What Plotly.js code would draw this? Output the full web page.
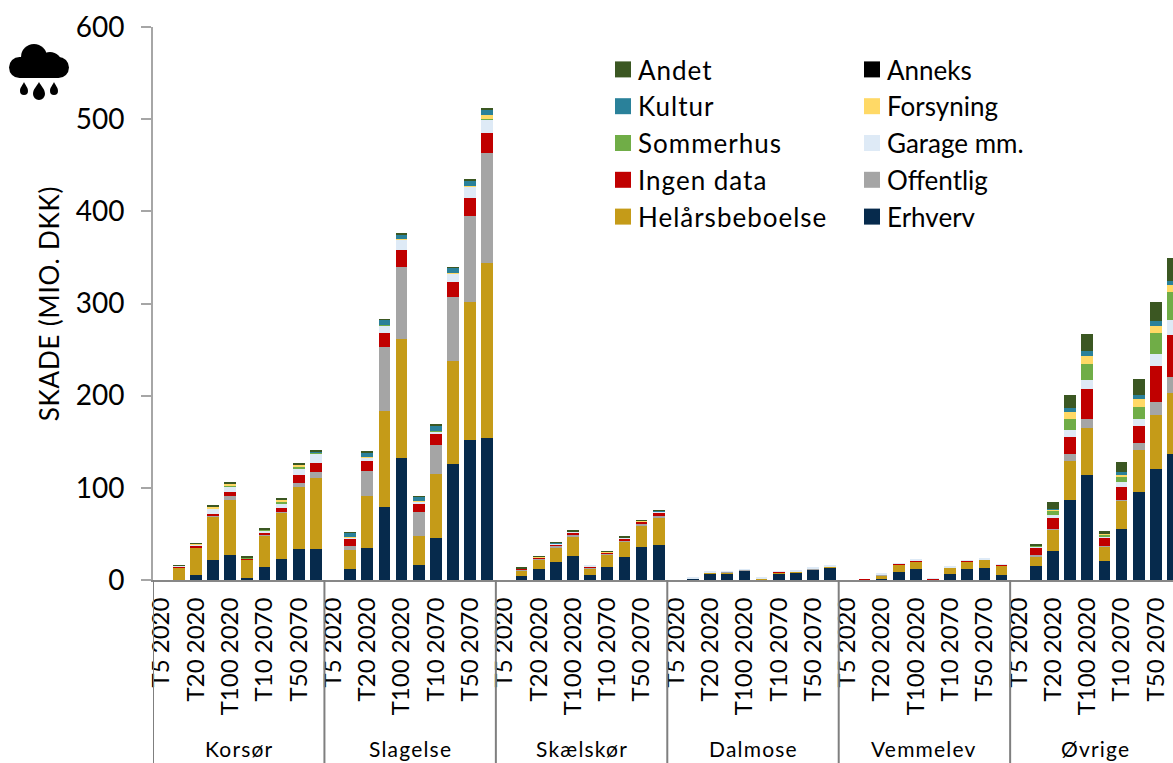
<!DOCTYPE html>
<html><head><meta charset="utf-8">
<script src="https://cdn.plot.ly/plotly-3.0.1.min.js"></script>
<style>
html,body{margin:0;padding:0;background:#fff;overflow:hidden}
#chart{width:1173px;height:763px}
.legendpoints path{d:path("M13 8H-3V-8H13Z")}
.legendtext{letter-spacing:1px}
.ytitle{letter-spacing:.8px}
.annotation-text{letter-spacing:1.2px}
</style></head><body><div id="chart"></div>
<script>
const groups = ["Korsør","Slagelse","Skælskør","Dalmose","Vemmelev","Øvrige"];
const scenarios = ["T5 2020","T10 2020","T20 2020","T50 2020","T100 2020","T5 2070","T10 2070","T20 2070","T50 2070","T100 2070"];

const erhverv = [
  0,0.5,5.5,21.3,27,2,14.5,22.4,33.6,34,
  0,11.6,35,78.8,132,16.3,45.6,125.9,151.5,154.4,
  0,4.7,12.3,19.5,26.4,5,14.5,24.6,35.4,38.3,
  0,1.1,7.2,7.2,10,0.8,7.2,8,11.2,13.4,
  0,0.1,1,8.7,12.3,0,6.9,12.3,13.4,5.8,
  0,14.8,31.5,86.4,114,20.6,55.3,95,120,137];
const helaars = [
  0,13,29.7,47.8,59.7,19.7,34,50.6,67.7,76.7,
  0,21,55.7,104.6,130,31,69.4,111.4,150.5,189.6,
  0,5.8,10,15.9,21,8,13.4,17.4,23.9,30,
  0,0.6,0.7,1.4,0.7,1,1,1,0.7,1,
  0,0.4,4.4,8.3,7.6,0.7,6.5,7.6,8.3,9.7,
  0,11.2,23.5,42.7,51,15.6,30.7,45.6,59,65.5];
const offentlig = [
  0,0.5,0.5,0.5,4,0.3,0.5,0.8,3.6,6.5,
  0,4.7,27.5,69,78,26.4,31.8,70,93.3,118.8,
  0,0.5,0.8,1.2,1.4,0.5,0.8,1.2,1.3,1.5,
  0,0,0.3,0.1,0.2,0,0.2,0.2,0.3,0.3,
  0,0.1,0.2,0.3,0.4,0,0.2,0.3,0.3,0.3,
  0,1,0.7,8,10,0.7,0.7,7.6,13.7,18];
const ingenData = [
  0,0.8,1.3,2.4,4.7,0.8,1.6,4.3,9,10.1,
  0,7.6,10.5,16,18,9.4,11.6,16.3,19.6,22.5,
  0,1.5,1.2,2.2,2.2,1.5,1.3,1.8,2.5,3,
  0,0.2,0.4,0.2,0.4,0.2,0.3,0.4,0.6,0.4,
  0,0.3,0.6,0.5,0.6,0.5,0.3,0.6,0.4,0.5,
  0,7.2,11.2,18,32.5,9.4,13.7,18.4,39,45];
const garage = [
  0,0.7,1.5,5.4,6.1,0.6,3,4.7,7.6,9.8,
  0,1.4,4,8,11,1.8,3.2,9,11.5,14.5,
  0,0.2,0.5,1,1.6,0.2,0.2,1,0.8,1.5,
  0,0.3,0.4,0.1,0.3,0.2,0.3,0.4,0.6,0.4,
  0,0,0.6,0.6,0.9,0.2,0.6,0.9,0.7,0.8,
  0,2.2,3.6,8,10,0.7,5.4,8.3,13,16.3];
const sommerhus = [
  0,0.3,0.5,0.7,1,0.5,0.7,2.2,1,1,
  0,0.2,0.4,0.3,0.3,0.2,0.2,0.2,0.3,0.1,
  0,0,0.1,0.1,0.1,0,0.1,0.1,0.1,0.1,
  0,0,0,0,0,0,0,0,0,0,
  0,0,0,0,0,0,0,0,0,0,
  0,0.6,5.4,11.6,17.4,2.9,6.9,13,23,30.4];
const forsyning = [
  0,0,0.3,1.5,2,0.2,0.5,2,2.9,0.7,
  0,0.2,0.3,0.2,0.7,0.2,0.2,0.3,0.5,5,
  0,0.1,0.1,0.2,0.2,0,0.1,0.2,0.3,0.4,
  0,0,0,0,0,0,0,0,0,0,
  0,0,0,0,0,0,0,0,0,0,
  0,0.3,0.3,7.6,8.3,0.3,1.4,8,8.3,8.3];
const kultur = [
  0,0,0.2,0.3,0.3,0.2,0.1,0.2,0.1,0.3,
  0,4.8,5,5.5,5,4.8,6,5.5,6,6,
  0,0.1,0.1,0.1,0.1,0,0.1,0.1,0.2,0.2,
  0,0,0,0,0,0,0,0,0,0,
  0,0,0,0,0,0,0,0,0,0,
  0,0.3,1.2,4.7,5,0.1,3.3,5,4.7,4];
const anneks = [
  0,0,0,0,0,0,0,0,0,0,
  0,0,0,0,0,0,0,0,0,0,
  0,0,0,0,0,0,0,0,0,0,
  0,0,0,0,0,0,0,0,0,0,
  0,0,0,0,0,0,0,0,0,0,
  0,0,0,0,0,0,0,0,0,0];
const andet = [
  0,0.2,0.5,1.4,1.5,0.7,1,0.9,1.2,1.5,
  0,0.5,0.6,0.5,0.7,0.6,0.6,0.7,1.1,1,
  0,0.5,0.3,0.3,0.3,0,0.2,0.4,0.4,0.5,
  0,0,0,0,0,0,0,0,0,0,
  0,0,0,0,0,0,0,0,0,0,
  0,2,7.6,14.1,18.4,3.3,10.5,17,20.6,25.3];

const seriesDefs = [
  ["Erhverv",erhverv,"#062a4c","legend2",5],
  ["Helårsbeboelse",helaars,"#c59b18","legend",5],
  ["Offentlig",offentlig,"#a5a5a5","legend2",4],
  ["Ingen data",ingenData,"#c00000","legend",4],
  ["Garage mm.",garage,"#deeaf6","legend2",3],
  ["Sommerhus",sommerhus,"#70ad47","legend",3],
  ["Forsyning",forsyning,"#ffd966","legend2",2],
  ["Kultur",kultur,"#2a819a","legend",2],
  ["Anneks",anneks,"#000000","legend2",1],
  ["Andet",andet,"#3b5722","legend",1]
];

const n = groups.length*scenarios.length;
const xIdx = Array.from({length:n},(_,i)=>i);
const traces = seriesDefs.map(([name,vals,color,leg,rank])=>({
  type:"bar",name,x:xIdx,y:vals,width:0.68,legend:leg,legendrank:rank,
  marker:{color,opacity:0.999,line:{width:0}},
  customdata:xIdx.map(i=>groups[Math.floor(i/10)]+" "+scenarios[i%10]),
  hovertemplate:"%{customdata}<br>"+name+": %{y}<extra></extra>"
}));

const W=1173,H=763,L=153,T=27,B=183,PW=W-L,PH=H-T-B;
const px=x=>(x-L)/PW, py=y=>(H-B-y)/PH;
const font="Lato, sans-serif";
const tickvals=xIdx.filter(i=>i%2===0);
const ticktext=tickvals.map(i=>scenarios[i%10]);

const shapes=groups.map((g,k)=>({type:"line",xref:"x",yref:"paper",x0:k*10-0.5,x1:k*10-0.5,y0:0,y1:py(H),line:{color:"#7f7f7f",width:2}}));
const annotations=groups.map((g,k)=>({xref:"x",yref:"paper",x:k*10+4.5,y:py(748),text:g,showarrow:false,xanchor:"center",yanchor:"middle",font:{family:font,size:21,color:"#000"}}));

const icon=`<svg xmlns="http://www.w3.org/2000/svg" width="240" height="224" viewBox="0 0 60 56"><g fill="#000"><rect x="0" y="13" width="60" height="21" rx="10.5"/><circle cx="25" cy="13" r="13"/><circle cx="41" cy="20" r="12"/><path d="M15 38C16 41 19 43 19 47A4 4 0 1 1 11 47C11 43 14 41 15 38Z"/><path d="M30 38C32 42 36 45 36 50A6 6 0 1 1 24 50C24 45 28 42 30 38Z"/><path d="M45 38C46 41 49 43 49 47A4 4 0 1 1 41 47C41 43 44 41 45 38Z"/></g></svg>`;

const layout={
  width:W,height:H,paper_bgcolor:"#fff",plot_bgcolor:"#fff",
  margin:{l:L,r:0,t:T,b:B,pad:0},
  barmode:"stack",showlegend:true,
  font:{family:font,color:"#000"},
  xaxis:{type:"linear",range:[-0.5,59],tickmode:"array",tickvals,ticktext,tickangle:-90,
    ticks:"",ticklabelstandoff:6,tickfont:{family:font,size:24,color:"#000"},
    showgrid:false,zeroline:false,showline:true,linecolor:"#878787",linewidth:2,automargin:false},
  yaxis:{range:[0,600],tickvals:[0,100,200,300,400,500,600],ticks:"outside",ticklen:10,tickwidth:2,tickcolor:"#a6a6a6",
    ticklabelstandoff:11,tickfont:{family:font,size:28,color:"#000"},
    showgrid:false,zeroline:false,showline:true,linecolor:"#a6a6a6",linewidth:2,automargin:false,
    title:{text:"SKADE (MIO. DKK)",standoff:9,font:{family:font,size:26,color:"#000"}}},
  legend:{xref:"paper",yref:"paper",x:px(598),y:py(46),xanchor:"left",yanchor:"top",traceorder:"normal",
    bgcolor:"rgba(0,0,0,0)",borderwidth:0,font:{family:font,size:26,color:"#000"},itemclick:false,itemdoubleclick:false},
  legend2:{xref:"paper",yref:"paper",x:px(847),y:py(46),xanchor:"left",yanchor:"top",traceorder:"normal",
    bgcolor:"rgba(0,0,0,0)",borderwidth:0,font:{family:font,size:26,color:"#000"},itemclick:false,itemdoubleclick:false},
  shapes,annotations,
  images:[{source:"data:image/svg+xml;utf8,"+encodeURIComponent(icon),xref:"paper",yref:"paper",x:px(9),y:py(44),sizex:60/PW,sizey:56/PH,xanchor:"left",yanchor:"top",sizing:"stretch",layer:"above"}]
};
Plotly.newPlot("chart",traces,layout,{displayModeBar:false,responsive:false});
</script></body></html>
